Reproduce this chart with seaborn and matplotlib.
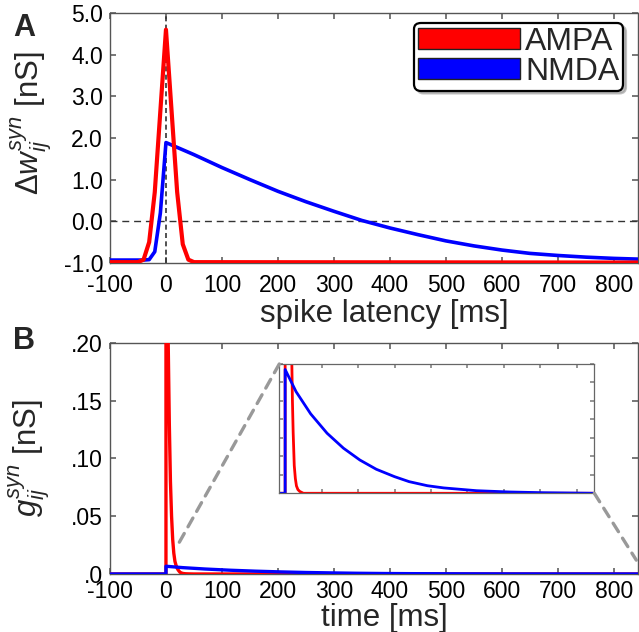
import matplotlib
matplotlib.use("Agg")
import numpy as np
import pandas as pd
import seaborn as sns
from matplotlib import pyplot as plt
from matplotlib.patches import Patch, ConnectionPatch
from matplotlib.ticker import FixedLocator, FuncFormatter

# panel A: weight change vs spike latency
latency_ampa = [-100, -50, -40, -30, -20, -10, 0, 10, 20, 30, 40, 50, 850]
dw_ampa = [-0.98, -0.98, -0.92, -0.50, 0.70, 2.65, 4.60, 2.65, 0.70, -0.55, -0.92, -0.98, -0.99]

latency_nmda = [-100, -40, -30, -20, -10, 0, 50, 100, 150, 200, 250, 300, 350, 400,
                450, 500, 550, 600, 650, 700, 750, 800, 850]
dw_nmda = [-0.93, -0.93, -0.92, -0.73, 0.20, 1.89, 1.60, 1.29, 1.00, 0.72, 0.47, 0.24, 0.02,
           -0.16, -0.32, -0.47, -0.59, -0.69, -0.77, -0.82, -0.86, -0.89, -0.91]

# panel B: conductance time course
time_ampa = [-100, 0, 0, 2, 4, 6, 8, 10, 12, 14, 16, 18, 20, 22, 25, 28, 31, 35, 40, 50, 850]
g_ampa = [0, 0, 0.50, 0.32, 0.20, 0.13, 0.08, 0.05, 0.03, 0.018, 0.011, 0.0075, 0.005, 0.0033,
          0.0015, 0.0008, 0.0004, 0.0002, 0.0001, 0, 0]

time_nmda = [-100, 0, 0, 30, 70, 115, 160, 205, 250, 300, 340, 390, 435, 525, 615, 710, 850]
g_nmda = [0, 0, 0.0067, 0.0055, 0.0043, 0.00325, 0.00244, 0.0018, 0.0013, 0.0009, 0.00063,
          0.00041, 0.00029, 0.00014, 0.00007, 0.00003, 0.0]

x_ticks = [-100, 0, 100, 200, 300, 400, 500, 600, 700, 800]
a_yticks = [-1.0, 0.0, 1.0, 2.0, 3.0, 4.0, 5.0]
b_yticks = [0.0, 0.05, 0.10, 0.15, 0.20]
b_ylabels = [".0", ".05", ".10", ".15", ".20"]

RED = "#ff0000"
BLUE = "#0000ff"

sns.set_theme(style="ticks", rc={
    "xtick.direction": "in", "ytick.direction": "in",
    "xtick.top": True, "ytick.right": True,
    "xtick.major.size": 4, "ytick.major.size": 4,
    "xtick.color": "#666666", "ytick.color": "#666666",
    "xtick.labelcolor": "black", "ytick.labelcolor": "black",
    "axes.edgecolor": "#555555", "axes.linewidth": 1.0,
    "axes.unicode_minus": False,
})
plt.rcParams["font.family"] = ["Liberation Sans", "DejaVu Sans"]
plt.rcParams["mathtext.fontset"] = "custom"
plt.rcParams["mathtext.rm"] = "Liberation Sans"
plt.rcParams["mathtext.it"] = "Liberation Sans:italic"

df_a = pd.concat([
    pd.DataFrame({"latency": latency_nmda, "dw": dw_nmda, "kind": "NMDA"}),
    pd.DataFrame({"latency": latency_ampa, "dw": dw_ampa, "kind": "AMPA"}),
])
df_b = pd.concat([
    pd.DataFrame({"time": time_nmda, "g": g_nmda, "kind": "NMDA"}),
    pd.DataFrame({"time": time_ampa, "g": g_ampa, "kind": "AMPA"}),
])
pal = {"AMPA": RED, "NMDA": BLUE}

fig = plt.figure(figsize=(6.39, 6.32), dpi=100)
ax_a = fig.add_axes([0.1721, 0.5839, 0.8263, 0.3956])
ax_b = fig.add_axes([0.1721, 0.0918, 0.8263, 0.3655])
ax_in = fig.add_axes([0.4371, 0.2195, 0.4930, 0.2046])

tick_fs = 16.5
label_fs = 22.5

# ---- panel A
ax_a.axhline(0, color="#333333", lw=1.0, dashes=(5, 3.5), zorder=1)
ax_a.axvline(0, color="#333333", lw=1.2, dashes=(3, 2), zorder=1)
for kind in ["NMDA", "AMPA"]:
    sns.lineplot(data=df_a[df_a["kind"] == kind], x="latency", y="dw", color=pal[kind],
                 lw=3.0 if kind == "AMPA" else 2.6, estimator=None, sort=False, ax=ax_a,
                 zorder=3)
ax_a.set_xlim(-100, 843)
ax_a.set_ylim(-1.0, 5.0)
ax_a.xaxis.set_major_locator(FixedLocator(x_ticks))
ax_a.yaxis.set_major_locator(FixedLocator(a_yticks))
ax_a.yaxis.set_major_formatter(FuncFormatter(lambda v, p: f"{v:.1f}"))
ax_a.tick_params(labelsize=tick_fs, pad=5)
ax_a.tick_params(axis="x", pad=8)
ax_a.set_xlabel("spike latency [ms]", fontsize=label_fs)
ax_a.set_ylabel(r"$\Delta w_{ij}^{syn}$ [nS]", fontsize=label_fs)
ax_a.xaxis.set_label_coords(0.52, -0.145)
ax_a.yaxis.set_label_coords(-0.105, 0.56)

handles = [Patch(facecolor=RED, edgecolor="#222222", lw=1, label="AMPA"),
           Patch(facecolor=BLUE, edgecolor="#222222", lw=1, label="NMDA")]
leg = ax_a.legend(handles=handles, loc="upper right", bbox_to_anchor=(0.972, 0.96),
                  fontsize=23, handlelength=3.2, handleheight=0.65, handletextpad=0.15,
                  labelspacing=0.0, borderpad=0.12, borderaxespad=0, frameon=True,
                  fancybox=True, shadow={"color": "0.6", "alpha": 0.6}, framealpha=1)
leg.get_frame().set_edgecolor("black")
leg.get_frame().set_linewidth(1.6)

# ---- panel B
for kind in ["AMPA", "NMDA"]:
    sns.lineplot(data=df_b[df_b["kind"] == kind], x="time", y="g", color=pal[kind], lw=2.4,
                 estimator=None, sort=False, ax=ax_b, zorder=3)
ax_b.set_xlim(-100, 843)
ax_b.set_ylim(0, 0.2)
ax_b.xaxis.set_major_locator(FixedLocator(x_ticks))
ax_b.yaxis.set_major_locator(FixedLocator(b_yticks))
ax_b.set_yticklabels(b_ylabels)
ax_b.tick_params(labelsize=tick_fs, pad=5)
ax_b.tick_params(axis="x", pad=4)
ax_b.set_xlabel("time [ms]", fontsize=label_fs)
ax_b.set_ylabel(r"$g_{ij}^{syn}$ [nS]", fontsize=label_fs)
ax_b.xaxis.set_label_coords(0.52, -0.125)
ax_b.yaxis.set_label_coords(-0.108, 0.5)

# inset
for kind in ["AMPA", "NMDA"]:
    sns.lineplot(data=df_b[df_b["kind"] == kind], x="time", y="g", color=pal[kind], lw=2.0,
                 estimator=None, sort=False, ax=ax_in)
ax_in.set_xlim(-16, 848)
ax_in.set_ylim(0, 0.007)
ax_in.xaxis.set_major_locator(FixedLocator(x_ticks[1:]))
ax_in.yaxis.set_major_locator(FixedLocator(np.arange(0, 0.0071, 0.001)))
ax_in.tick_params(labelbottom=False, labelleft=False, length=3, color="#888888")
ax_in.set_xlabel("")
ax_in.set_ylabel("")
for s in ax_in.spines.values():
    s.set_color("#666666")
    s.set_linewidth(0.9)

for xy_in, xy_main in [((0, 1), (21, 0.025)), ((1, 0), (840, 0.012))]:
    con = ConnectionPatch(xyA=xy_in, coordsA=ax_in.transAxes, xyB=xy_main, coordsB=ax_b.transData,
                          color="#999999", lw=2.4, linestyle=(0, (3, 2.3)))
    fig.add_artist(con)

fig.text(0.02, 0.979, "A", fontsize=22, fontweight="bold", va="top", ha="left")
fig.text(0.02, 0.484, "B", fontsize=22, fontweight="bold", va="top", ha="left")

fig.savefig("out.png", dpi=100)
